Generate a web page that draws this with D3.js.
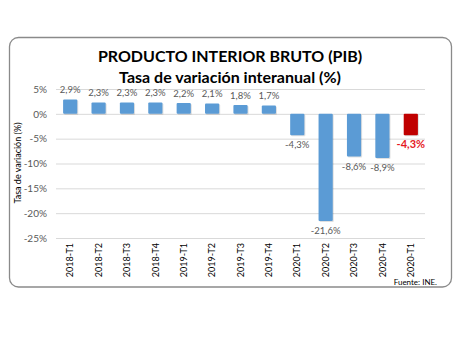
<!DOCTYPE html>
<html><head><meta charset="utf-8">
<script src="https://cdn.jsdelivr.net/npm/d3@7"></script>
<style>body{margin:0;background:#fff}svg{display:block}</style>
</head><body>
<svg id="c" width="460" height="340"></svg>
<script>
const categories = ["2018-T1","2018-T2","2018-T3","2018-T4","2019-T1","2019-T2","2019-T3","2019-T4","2020-T1","2020-T2","2020-T3","2020-T4","2020-T1 "];
const values = [2.9,2.3,2.3,2.3,2.2,2.1,1.8,1.7,-4.3,-21.6,-8.6,-8.9,-4.3];
const valueLabels = ["2,9%","2,3%","2,3%","2,3%","2,2%","2,1%","1,8%","1,7%","-4,3%","-21,6%","-8,6%","-8,9%","-4,3%"];
const yTicks = [5,0,-5,-10,-15,-20,-25];
const highlightIndex = 12;

const svg = d3.select("#c");
const font = "Lato, 'Open Sans', sans-serif";
svg.append("rect").attr("x",9.5).attr("y",37.5).attr("width",442).attr("height",249.5)
  .attr("rx",9).attr("fill","#fff").attr("stroke","#8a8a8a").attr("stroke-width",1.3);

svg.append("text").attr("x",230).attr("y",62).attr("text-anchor","middle")
  .attr("font-family",font).attr("font-weight","bold").attr("font-size",16).attr("fill","#000")
  .text("PRODUCTO INTERIOR BRUTO (PIB)");
svg.append("text").attr("x",230).attr("y",83).attr("text-anchor","middle")
  .attr("font-family",font).attr("font-weight","bold").attr("font-size",16).attr("fill","#000")
  .text("Tasa de variación interanual (%)");

const x = d3.scaleBand().domain(categories).range([56,425]).paddingInner(0.5).paddingOuter(0.25);
const y = d3.scaleLinear().domain([-25,5]).range([238,89]);

const g = svg.append("g");
g.selectAll("line.grid").data(yTicks).join("line")
  .attr("x1",56).attr("x2",425).attr("y1",d=>y(d)+0.5).attr("y2",d=>y(d)+0.5)
  .attr("stroke","#d9d9d9").attr("stroke-width",1);

const yAxis = d3.axisLeft(y).tickValues(yTicks).tickSize(0).tickPadding(0).tickFormat(d=>d+"%");
const ya = svg.append("g").attr("transform","translate(47,0)").call(yAxis);
ya.select(".domain").remove();
ya.selectAll("text").attr("font-family",font).attr("font-size",10).attr("fill","#595959");

svg.append("text").attr("transform","translate(21,163) rotate(-90)").attr("text-anchor","middle")
  .attr("font-family",font).attr("font-size",9).attr("fill","#000").text("Tasa de variación (%)");

// shadows
g.selectAll("rect.sh").data(values).join("rect")
  .attr("x",(d,i)=>x(categories[i])+1).attr("y",d=>Math.min(y(d),y(0))+1)
  .attr("width",x.bandwidth()).attr("height",d=>Math.abs(y(d)-y(0)))
  .attr("fill","#000").attr("opacity",0.12).attr("rx",1);
g.selectAll("rect.bar").data(values).join("rect")
  .attr("x",(d,i)=>x(categories[i])).attr("y",d=>Math.min(y(d),y(0)))
  .attr("width",x.bandwidth()).attr("height",d=>Math.abs(y(d)-y(0)))
  .attr("fill",(d,i)=>i===highlightIndex?"#c00000":"#5b9bd5").attr("rx",1);

g.selectAll("text.vl").data(values).join("text")
  .attr("x",(d,i)=>x(categories[i])+x.bandwidth()/2)
  .attr("y",d=>d>=0?y(d)-6:y(d)+(13))
  .attr("text-anchor","middle").attr("font-family",font)
  .attr("font-size",(d,i)=>i===highlightIndex?11:9.5)
  .attr("font-weight",(d,i)=>i===highlightIndex?"bold":"normal")
  .attr("fill",(d,i)=>i===highlightIndex?"#e5191e":"#595959")
  .text((d,i)=>valueLabels[i]);

const xa = svg.append("g").attr("transform","translate(0,243)")
  .call(d3.axisBottom(x).tickSize(0).tickPadding(0).tickFormat(d=>d.trim()));
xa.select(".domain").remove();
xa.selectAll("text").attr("font-family",font).attr("font-size",9).attr("fill","#000")
  .attr("transform","rotate(-90)").attr("text-anchor","end").attr("dy","0.35em").attr("x",0).attr("y",0);

svg.append("text").attr("x",437).attr("y",285).attr("text-anchor","end")
  .attr("font-family",font).attr("font-size",8).attr("fill","#000").text("Fuente: INE.");
</script>
</body></html>
